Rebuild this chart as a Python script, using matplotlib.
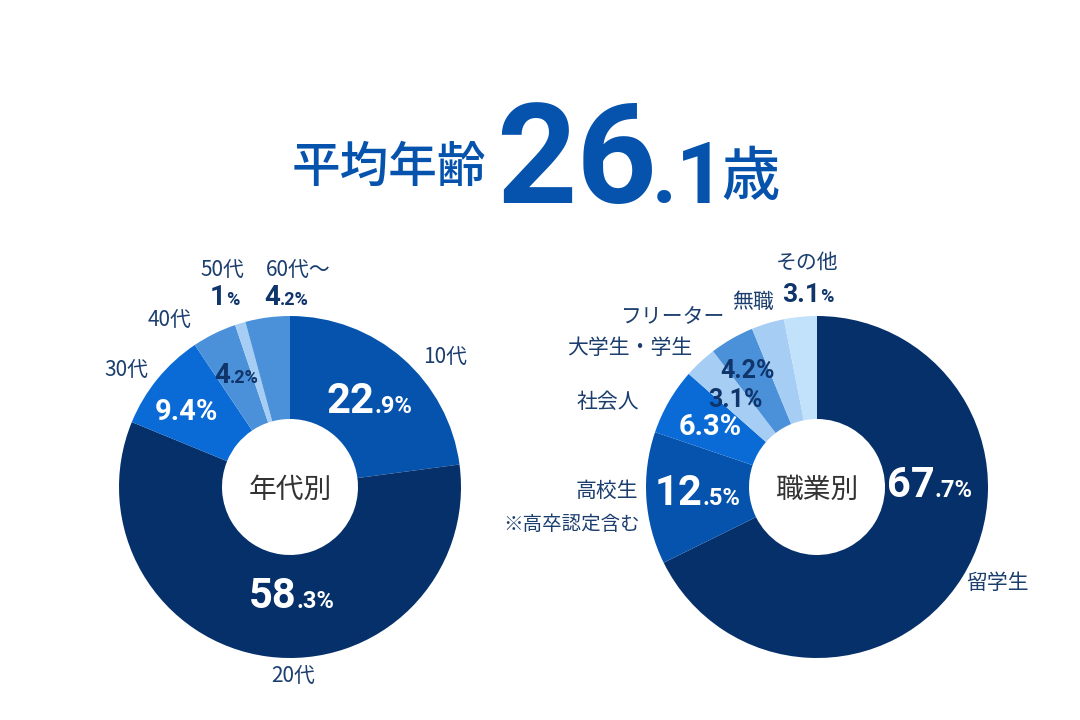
import matplotlib
matplotlib.use("Agg")
import matplotlib.pyplot as plt

# ---- data ----
age_labels = ["10代", "20代", "30代", "40代", "50代", "60代～"]
age_values = [22.9, 58.3, 9.4, 4.2, 1.0, 4.2]
job_labels = ["留学生", "高校生", "社会人", "大学生・学生", "フリーター", "無職", "その他"]
job_values = [67.7, 12.5, 6.3, 3.1, 4.2, 3.1, 3.1]
avg_age = "26.1"

NAVY = "#06306a"
BLUE1 = "#0653ad"
BLUE2 = "#0a6bd6"
MID = "#4b91da"
LIGHT = "#a6cdf3"
LIGHTER = "#c2e1fb"
TXT = "#1b3e6e"
DARKPCT = "#10356a"

age_colors = [BLUE1, NAVY, BLUE2, MID, LIGHT, MID]
job_colors = [NAVY, BLUE1, BLUE2, LIGHT, MID, LIGHT, LIGHTER]

JP = ["Noto Sans CJK JP", "DejaVu Sans"]
NUM = ["Roboto", "Noto Sans CJK JP", "DejaVu Sans"]

W, H = 1080, 720
fig = plt.figure(figsize=(W / 100, H / 100), dpi=100)
ax = fig.add_axes([0, 0, 1, 1])

R_OUT, R_IN = 171, 68
left_c = (290, H - 487)
right_c = (817, H - 487)

ax.pie(age_values, center=left_c, radius=R_OUT, startangle=90, counterclock=False,
       colors=age_colors, wedgeprops=dict(width=R_OUT - R_IN, linewidth=0))
ax.pie(job_values, center=right_c, radius=R_OUT, startangle=90, counterclock=False,
       colors=job_colors, wedgeprops=dict(width=R_OUT - R_IN, linewidth=0))

ax.set_xlim(0, W)
ax.set_ylim(0, H)
ax.set_aspect("equal")
ax.axis("off")

renderer = fig.canvas.get_renderer()


def Y(y):
    return H - y


def label(x, y, s, size=15, ha="center", color=TXT):
    ax.text(x, Y(y), s, fontsize=size, color=color, ha=ha, va="center",
            family=JP)


def pct(xsplit, ybase, big, small, color, bs, ss):
    ax.text(xsplit, Y(ybase), big, fontsize=bs, color=color, ha="right",
            va="baseline", family=NUM, fontweight="bold")
    if small:
        ax.text(xsplit, Y(ybase), small, fontsize=ss, color=color, ha="left",
                va="baseline", family=NUM, fontweight="bold")


# ---- title ----
ax.text(486, Y(168), "平均年齢", fontsize=35, color=BLUE1, ha="right", va="center",
        family=JP, fontweight="medium")
t1 = ax.text(496, Y(203), avg_age.split(".")[0], fontsize=101, color=BLUE1, ha="left",
             va="baseline", family=NUM, fontweight="bold")
fig.canvas.draw()
bb = t1.get_window_extent(renderer)
ax.text(bb.x1 - 5, Y(203), "." + avg_age.split(".")[1], fontsize=62, color=BLUE1,
        ha="left", va="baseline", family=NUM, fontweight="bold")
ax.text(721, Y(178), "歳", fontsize=42, color=BLUE1, ha="left", va="center",
        family=JP, fontweight="medium")

# ---- left donut labels ----
label(445, 357, age_labels[0])
label(293, 676, age_labels[1])
label(126, 370, age_labels[2])
label(170, 320, age_labels[3])
label(222, 270, age_labels[4])
label(298, 270, age_labels[5])

pct(374, 413, "22", ".9%", "white", 30, 17)
pct(297, 608, "58", ".3%", "white", 30, 17)
pct(218, 420, "9.4%", "", "white", 21, 13)
pct(230, 383, "4", ".2%", DARKPCT, 20, 13)
pct(226, 305, "1", "%", DARKPCT, 20, 13)
pct(280, 305, "4", ".2%", DARKPCT, 20, 13)

ax.text(left_c[0], Y(490), "年代別", fontsize=20, color="#333333", ha="center",
        va="center", family=JP)

# ---- right donut labels ----
label(997, 583, job_labels[0])
label(638, 491, job_labels[1], ha="right")
label(640, 525, "※高卒認定含む", size=14, ha="right")
label(639, 402, job_labels[2], ha="right")
label(692, 348, job_labels[3], ha="right")
label(725, 317, job_labels[4], ha="right")
label(753, 302, job_labels[5])
label(807, 263, job_labels[6])

pct(935, 497, "67", ".7%", "white", 30, 17)
pct(703, 505, "12", ".5%", "white", 30, 17)
pct(742, 435, "6.3%", "", "white", 21, 13)
pct(763, 407, "3.1%", "", DARKPCT, 18, 12)
pct(775, 378, "4.2%", "", DARKPCT, 18, 12)
pct(820, 302, "3.1", "%", DARKPCT, 19, 13)

ax.text(right_c[0], Y(490), "職業別", fontsize=20, color="#333333", ha="center",
        va="center", family=JP)

fig.savefig("out.png", dpi=100, facecolor="white")
